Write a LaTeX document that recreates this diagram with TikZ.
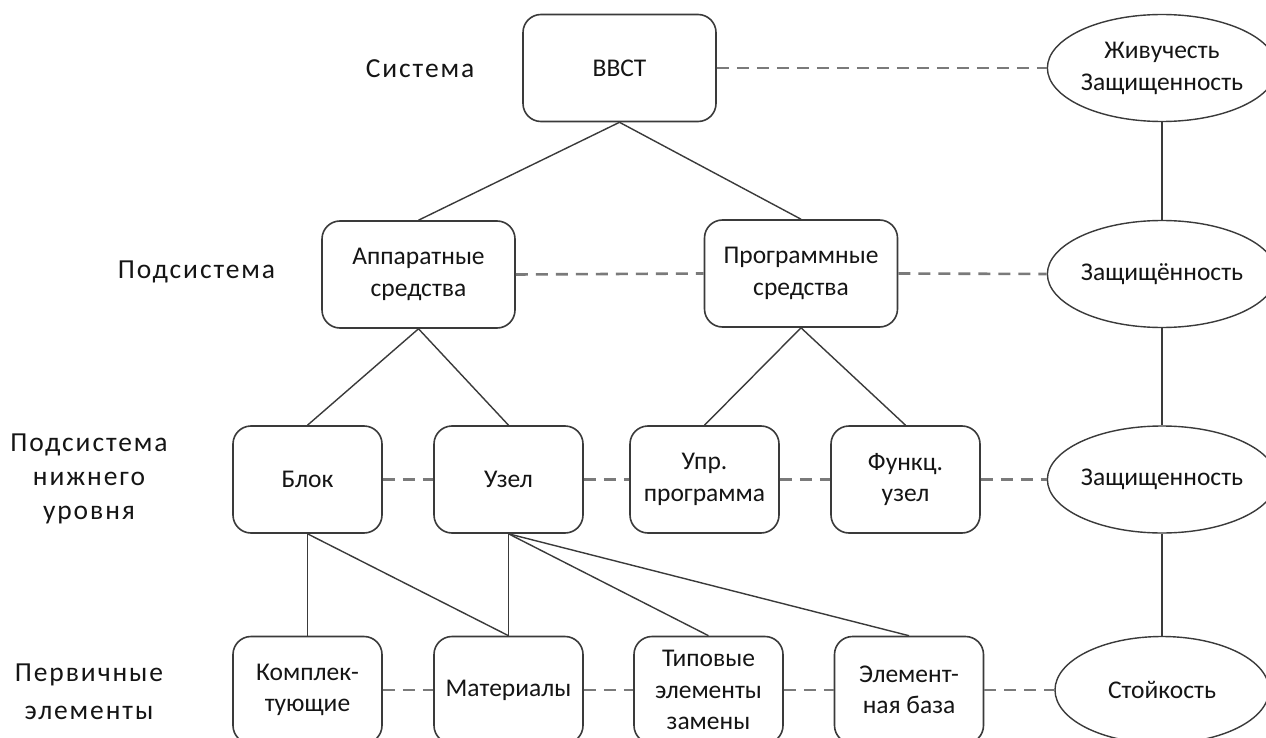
\documentclass[tikz,border=0pt]{standalone}
\usepackage{fontspec}
\setmainfont{Carlito}
\newfontfamily\labfont[LetterSpace=7]{Carlito}
\usetikzlibrary{shapes.geometric}
\definecolor{edge}{HTML}{3A3A3A}
\definecolor{dashc}{HTML}{7A7A7A}
\definecolor{txt}{HTML}{151515}
\begin{document}
\begin{tikzpicture}[x=1pt,y=-1pt,
  box/.style={draw=edge,line width=1.6pt,rounded corners=18pt,fill=white,
    minimum height=107pt,inner sep=2pt,align=center,text=txt,
    font=\fontsize{25.5}{31.5}\selectfont},
  widebox/.style={box,minimum width=193pt},
  smallbox/.style={box,minimum width=149pt},
  oval/.style={ellipse,draw=edge,line width=1.4pt,minimum width=214pt,
    minimum height=107pt,inner sep=0pt,align=center,text=txt,
    font=\fontsize{25.5}{32}\selectfont},
  lvl/.style={align=center,text=txt,inner sep=0pt,
    font=\labfont\fontsize{27.5}{34}\selectfont},
  tie/.style={draw=edge,line width=1.4pt},
  link/.style={draw=dashc,line width=2.6pt,dash pattern=on 12pt off 8pt}]
\useasboundingbox[fill=white] (0,0) rectangle (1266,738);

% level labels
\node[lvl] (l1) at (420,69) {Система};
\node[lvl] (l2) at (196.5,272) {Подсистема};
\node[lvl] (l3) at (89,479) {Подсистема\\нижнего\\уровня};
\node[lvl,font=\labfont\fontsize{27.5}{38}\selectfont] (l4) at (89,692) {Первичные\\элементы};

% boxes
\node[widebox] (vvst) at (619.5,68) {ВВСТ};
\node[widebox] (app) at (418.5,274.5) {Аппаратные\\средства};
\node[widebox] (prog) at (801,273.5) {Программные\\средства};
\node[smallbox] (blok) at (307.5,479.5) {Блок};
\node[smallbox] (uzel) at (508.5,479.5) {Узел};
\node[smallbox] (upr) at (704.5,479.5) {Упр.\\программа};
\node[smallbox] (funk) at (905.5,479.5) {Функц.\\узел};
\node[smallbox] (kompl) at (307.5,690) {Комплек-\\тующие};
\node[smallbox] (mat) at (508.5,690) {Материалы};
\node[smallbox] (tip) at (708.5,690) {Типовые\\элементы\\замены};
\node[smallbox] (elem) at (909,690) {Элемент-\\ная база};

% ellipses
\node[oval] (e1) at (1162,68) {Живучесть\\Защищенность};
\node[oval] (e2) at (1162,274) {Защищённость};
\node[oval] (e3) at (1162,479.5) {Защищенность};
\node[oval] (e4) at (1162,690) {Стойкость};

% hierarchy
\draw[tie] (vvst.south) -- (app.north);
\draw[tie] (vvst.south) -- (prog.north);
\draw[tie] (app.south) -- (blok.north);
\draw[tie] (app.south) -- (uzel.north);
\draw[tie] (prog.south) -- (upr.north);
\draw[tie] (prog.south) -- (funk.north);
\draw[tie] (blok.south) -- (kompl.north);
\draw[tie] (blok.south) -- (mat.north);
\draw[tie] (uzel.south) -- (mat.north);
\draw[tie] (uzel.south) -- (tip.north);
\draw[tie] (uzel.south) -- (elem.north);
\draw[tie] (e1.south) -- (e2.north);
\draw[tie] (e2.south) -- (e3.north);
\draw[tie] (e3.south) -- (e4.north);

% dashed relations
\draw[link] (vvst.east) -- (e1.west);
\draw[link] (app.east) -- (prog.west);
\draw[link] (prog.east) -- (e2.west);
\draw[link] (blok.east) -- (uzel.west);
\draw[link] (uzel.east) -- (upr.west);
\draw[link] (upr.east) -- (funk.west);
\draw[link] (funk.east) -- (e3.west);
\draw[link] (kompl.east) -- (mat.west);
\draw[link] (mat.east) -- (tip.west);
\draw[link] (tip.east) -- (elem.west);
\draw[link] (elem.east) -- (e4.west);
\end{tikzpicture}
\end{document}
